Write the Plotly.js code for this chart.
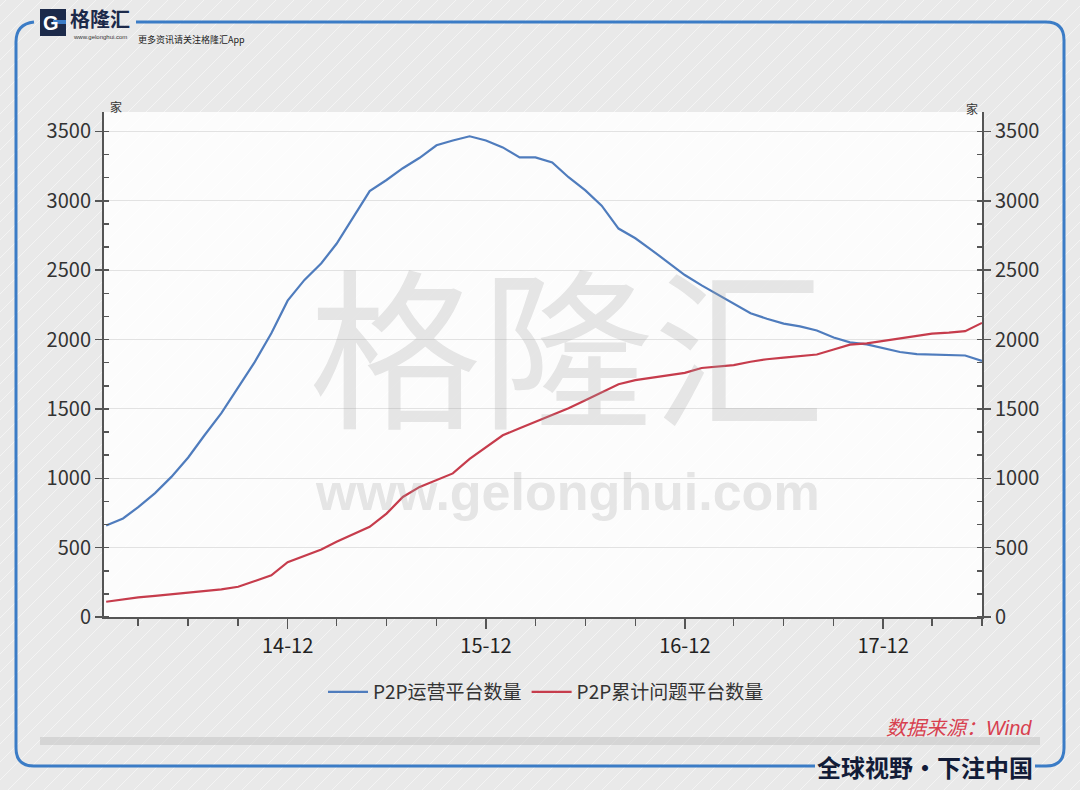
<!DOCTYPE html>
<html>
<head>
<meta charset="utf-8">
<script src="https://cdn.plot.ly/plotly-3.0.1.min.js"></script>
<style>
  body { margin: 0; background: #e9e9e9; }
  #chart { width: 1080px; height: 790px; }
</style>
</head>
<body>
<div id="chart"></div>
<script>
// monthly data, 2014-01 .. 2018-06
const months = [
  '2014-01','2014-02','2014-03','2014-04','2014-05','2014-06','2014-07','2014-08','2014-09','2014-10','2014-11','2014-12',
  '2015-01','2015-02','2015-03','2015-04','2015-05','2015-06','2015-07','2015-08','2015-09','2015-10','2015-11','2015-12',
  '2016-01','2016-02','2016-03','2016-04','2016-05','2016-06','2016-07','2016-08','2016-09','2016-10','2016-11','2016-12',
  '2017-01','2017-02','2017-03','2017-04','2017-05','2017-06','2017-07','2017-08','2017-09','2017-10','2017-11','2017-12',
  '2018-01','2018-02','2018-03','2018-04','2018-05','2018-06'
];
const operating = [
  660, 710, 792, 893, 1010, 1150, 1310, 1470, 1655, 1835, 2045, 2280,
  2430, 2550, 2690, 2880, 3070, 3150, 3235, 3310, 3400, 3435, 3465, 3435,
  3385, 3313, 3313, 3277, 3170, 3075, 2965, 2800, 2730, 2645, 2555, 2465,
  2390, 2320, 2260, 2190, 2150, 2115, 2095, 2065, 2015, 1980, 1965, 1937,
  1910, 1895, 1893, 1887, 1885, 1845
];
const problem = [
  110, 128, 142, 152, 163, 172, 183, 199, 218, 258, 300, 395,
  440, 487, 542, 595, 650, 745, 865, 938, 987, 1035, 1140, 1225,
  1310, 1360, 1405, 1455, 1505, 1563, 1622, 1678, 1707, 1726, 1743, 1760,
  1795, 1808, 1816, 1840, 1858, 1870, 1880, 1892, 1928, 1963, 1972, 1990,
  2012, 2030, 2043, 2050, 2060, 2120
];
const seriesNames = ['P2P运营平台数量', 'P2P累计问题平台数量'];
const tickVals = ['2014-12-01', '2015-12-01', '2016-12-01', '2017-12-01'];
const tickText = ['14-12', '15-12', '16-12', '17-12'];
const yTicks = [0, 500, 1000, 1500, 2000, 2500, 3000, 3500];

// plot box in page pixels, used to place decorations
const L = 104, R = 982, T = 112, B = 617;
function fx(px) { return (px - L) / (R - L); }
function fy(py) { return (B - py) / (B - T); }

const numFont = 'Liberation Sans Narrow, Arial Narrow, Noto Sans CJK SC, sans-serif';

const trace1 = {
  x: months, y: operating, name: seriesNames[0],
  type: 'scatter', mode: 'lines',
  line: { color: '#4f7cbd', width: 2.2 }
};
const trace2 = {
  x: months, y: problem, name: seriesNames[1],
  type: 'scatter', mode: 'lines', yaxis: 'y2',
  line: { color: '#c63c4c', width: 2.2 }
};

// background stripes + frame
const shapes = [];
for (let k = -820; k < 1100; k += 18) {
  shapes.push({
    type: 'line', xref: 'paper', yref: 'paper', layer: 'below',
    x0: fx(k), y0: fy(790), x1: fx(k + 790), y1: fy(0),
    line: { color: 'rgba(255,255,255,0.5)', width: 1 }
  });
}
shapes.push({
  type: 'rect', xref: 'paper', yref: 'paper', layer: 'below',
  x0: fx(40), x1: fx(1040), y0: fy(737), y1: fy(745),
  fillcolor: 'rgba(200,200,200,0.6)', line: { width: 0 }
});
const frameColor = '#3b7cc6';
function P(px, py) { return fx(px) + ',' + fy(py); }
shapes.push({
  type: 'path', xref: 'paper', yref: 'paper', layer: 'above',
  path: 'M' + P(34, 22) + ' Q' + P(16, 24) + ' ' + P(16, 42) +
        ' L' + P(16, 748) + ' Q' + P(16, 766) + ' ' + P(34, 766) +
        ' L' + P(815, 766),
  line: { color: frameColor, width: 3 }
});
shapes.push({
  type: 'path', xref: 'paper', yref: 'paper', layer: 'above',
  path: 'M' + P(136, 22) + ' L' + P(1046, 22) + ' Q' + P(1064, 22) + ' ' + P(1064, 40) +
        ' L' + P(1064, 748) + ' Q' + P(1064, 766) + ' ' + P(1046, 766) +
        ' L' + P(1035, 766),
  line: { color: frameColor, width: 3 }
});
// logo box
shapes.push({
  type: 'rect', xref: 'paper', yref: 'paper', layer: 'above',
  x0: fx(40), x1: fx(66), y0: fy(36), y1: fy(9),
  fillcolor: '#1c2a4a', line: { width: 0 }
});
shapes.push({
  type: 'rect', xref: 'paper', yref: 'paper', layer: 'above',
  x0: fx(53), x1: fx(66), y0: fy(24), y1: fy(20),
  fillcolor: '#3b7cc6', line: { width: 0 }
});

function note(px, py, text, font, xa) {
  return { x: fx(px), y: fy(py), xref: 'paper', yref: 'paper', showarrow: false,
           xanchor: xa || 'center', yanchor: 'middle', text: text, font: font };
}

const annotations = [
  // watermark
  note(567, 340, '格隆汇', { family: 'Noto Sans CJK SC', size: 172, color: 'rgba(160,160,160,0.25)' }),
  note(567, 492, '<b>www.gelonghui.com</b>', { family: 'Liberation Sans, Arial', size: 52, color: 'rgba(160,160,160,0.25)' }),
  // units
  note(116, 106, '家', { family: 'Noto Sans CJK SC', size: 12, color: '#333' }),
  note(972, 108, '家', { family: 'Noto Sans CJK SC', size: 12, color: '#333' }),
  // source
  note(1034, 728, '<i>数据来源：Wind</i>', { family: 'Liberation Sans, Noto Sans CJK SC', size: 20, color: '#d8404f' }, 'right'),
  // footer slogan
  note(925, 766, '<b>全球视野・下注中国</b>', { family: 'Noto Sans CJK SC', size: 24, color: '#121c38' }),
  // logo
  note(51, 23, '<b>G</b>', { family: 'Liberation Sans, Arial', size: 20, color: '#ffffff' }),
  note(100, 18, '<b>格隆汇</b>', { family: 'Noto Sans CJK SC', size: 20, color: '#1c2a4a' }),
  note(100, 37, 'www.gelonghui.com', { family: 'Liberation Sans, Arial', size: 6, color: '#333' }),
  note(136, 39, '更多资讯请关注格隆汇App', { family: 'Noto Sans CJK SC', size: 9, color: '#222' }, 'left')
];

const yAxisCommon = {
  range: [0, 3640],
  tickvals: yTicks,
  ticks: 'outside', ticklen: 7, tickwidth: 1.5, tickcolor: '#555',
  showline: true, linecolor: '#555', linewidth: 2,
  tickfont: { family: numFont, size: 20, color: '#333' },
  minor: { dtick: 500 / 3, tick0: 0, ticks: 'inside', ticklen: 5, tickwidth: 1.5, tickcolor: '#555', showgrid: false },
  zeroline: false, fixedrange: true
};

const layout = {
  width: 1080, height: 790,
  margin: { l: L, r: 1080 - R, t: T, b: 790 - B },
  paper_bgcolor: '#e9e9e9',
  plot_bgcolor: 'rgba(253,253,253,0.92)',
  showlegend: true,
  legend: {
    orientation: 'h', x: fx(546), xanchor: 'center', y: fy(673), yanchor: 'top',
    font: { family: numFont, size: 19, color: '#333' },
    itemwidth: 40,
    bgcolor: 'rgba(0,0,0,0)'
  },
  xaxis: {
    type: 'date',
    range: ['2013-12-28', '2018-06-01'],
    tickvals: tickVals, ticktext: tickText,
    ticks: 'outside', ticklen: 10, tickwidth: 1.5, tickcolor: '#555',
    showline: true, linecolor: '#555', linewidth: 2,
    showgrid: false,
    tickfont: { family: numFont, size: 20, color: '#222' },
    minor: { dtick: 'M3', tick0: '2014-12-01', ticks: 'outside', ticklen: 7, tickwidth: 1.5, tickcolor: '#555', showgrid: false },
    fixedrange: true
  },
  yaxis: Object.assign({}, yAxisCommon, {
    side: 'left', showgrid: true, gridcolor: '#e2e2e2', gridwidth: 1
  }),
  yaxis2: Object.assign({}, yAxisCommon, {
    side: 'right', overlaying: 'y', showgrid: false
  }),
  shapes: shapes,
  annotations: annotations
};

Plotly.newPlot('chart', [trace1, trace2], layout, { displayModeBar: false, staticPlot: true });
</script>
</body>
</html>
